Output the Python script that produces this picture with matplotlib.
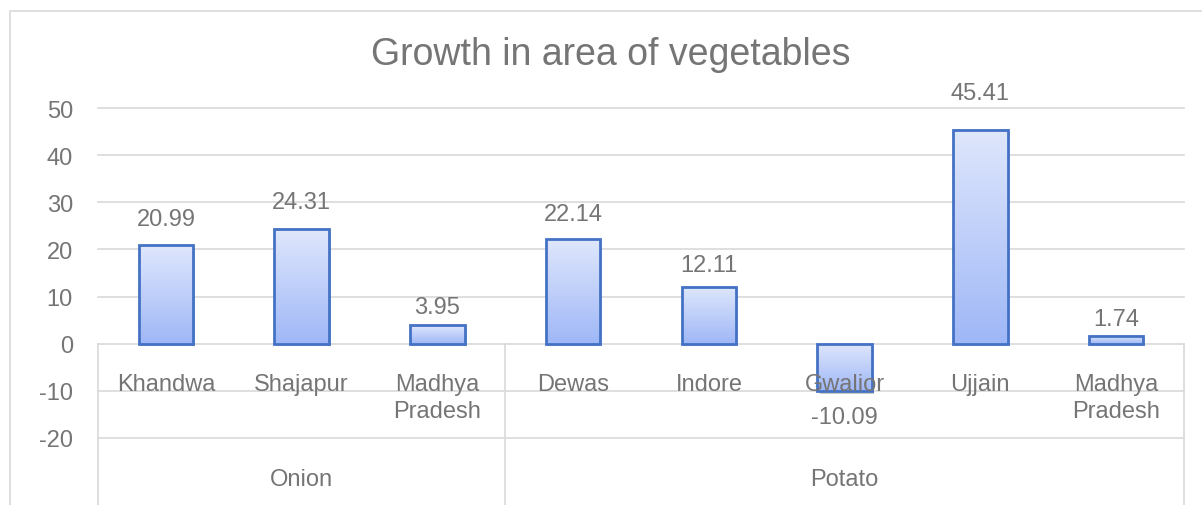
import matplotlib.pyplot as plt
import matplotlib.patheffects as pe
from matplotlib.colors import LinearSegmentedColormap
from matplotlib.patches import Rectangle
import numpy as np

plt.rcParams["font.family"] = ["Liberation Sans", "DejaVu Sans"]
plt.rcParams["axes.unicode_minus"] = False

# 데이터
districts = ["Khandwa", "Shajapur", "Madhya\nPradesh", "Dewas", "Indore", "Gwalior", "Ujjain", "Madhya\nPradesh"]
values = [20.99, 24.31, 3.95, 22.14, 12.11, -10.09, 45.41, 1.74]
crops = ["Onion", "Potato"]
crop_sizes = [3, 5]
yticks = [-20, -10, 0, 10, 20, 30, 40, 50]

grid_c = "#d9d9d9"
text_c = "#757575"
fs = 17

fig = plt.figure(figsize = (12.02 , 5.06) , dpi = 100)
ax = fig.add_axes([98 / 1202 , 67 / 506 , (1184 - 98) / 1202 , (439 - 109) / 506])

# 차트 바깥 테두리
fig.patches.append(Rectangle((10 / 1202 , -0.1) , 1.2 , (506 - 12) / 506 + 0.1 , transform = fig.transFigure ,
                             fill = False , edgecolor = grid_c , linewidth = 1.2))

x = np.arange(len(values))
w = 0.4

# 그림자 (막대 뒤)
shadow = ax.bar(x , values , width = w , facecolor = "white" , edgecolor = "none" , zorder = 2)
for b in shadow:
    b.set_path_effects([pe.SimplePatchShadow(offset = (1.5 , -2) , alpha = 0.3) , pe.Normal()])

# 그라디언트 막대
cmap = LinearSegmentedColormap.from_list("g" , ["#9fb7f7" , "#dfe7fc"])
grad = np.linspace(0 , 1 , 256).reshape(-1 , 1)
for xi , v in zip(x , values):
    lo , hi = min(0 , v) , max(0 , v)
    ax.imshow(grad , cmap = cmap , origin = "lower" , aspect = "auto" ,
              extent = [xi - w / 2 , xi + w / 2 , lo , hi] , zorder = 3)
ax.bar(x , values , width = w , facecolor = "none" , edgecolor = "#4472c4" , linewidth = 2 , zorder = 4)

# 데이터 레이블 (엑셀처럼 값이 클수록 조금 더 위에 놓임)
for xi , v in zip(x , values):
    ly = v * 1.094 + (3.4 if v >= 0 else -4.5)
    ax.text(xi , ly , f"{v:.2f}" , ha = "center" , va = "center" , fontsize = fs , color = text_c ,
            clip_on = False , zorder = 5)

ax.set_xlim(-0.5 , len(values) - 0.5)
ax.set_ylim(-20 , 50)

# 그리드
for t in yticks:
    ax.axhline(t , color = grid_c , linewidth = 1.2 , zorder = 1 , clip_on = False)

for s in ax.spines.values():
    s.set_visible(False)
ax.set_xticks([])
ax.set_yticks(yticks)
ax.tick_params(axis = "y" , length = 0 , pad = 18 , labelsize = fs , labelcolor = text_c)

# 카테고리 레이블 (2단)
for xi , name in zip(x , districts):
    ax.text(xi , -6.2 , name , ha = "center" , va = "top" , fontsize = fs , color = text_c ,
            linespacing = 1.28 , zorder = 6)

start = 0
bounds = [-0.5]
for crop , n in zip(crops , crop_sizes):
    ax.text(start - 0.5 + n / 2 , -28.6 , crop , ha = "center" , va = "center" , fontsize = fs , color = text_c)
    start += n
    bounds.append(start - 0.5)
for bx in bounds:
    ax.plot([bx , bx] , [0 , -40] , color = grid_c , linewidth = 1.2 , clip_on = False , zorder = 1)

fig.text(611 / 1202 , 1 - 55 / 506 , "Growth in area of vegetables" , ha = "center" , va = "center" ,
         fontsize = 27 , color = text_c)

fig.savefig("out.png" , dpi = 100)
